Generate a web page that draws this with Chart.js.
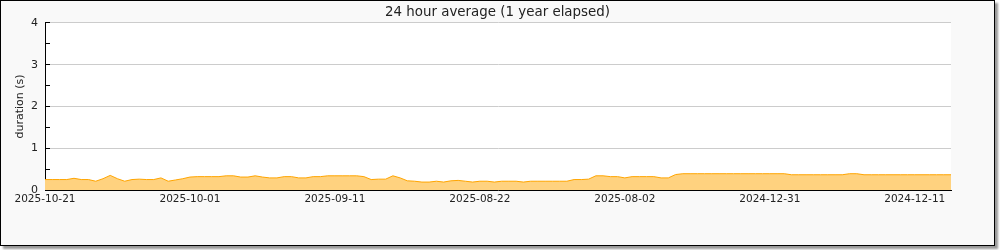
<!DOCTYPE html>
<html>
<head>
<meta charset="utf-8">
<script src="https://cdn.jsdelivr.net/npm/chart.js@4.4.1/dist/chart.umd.min.js"></script>
<style>
    body { margin: 0; background: #ffffff; }
    #frame {
        position: absolute; left: 0; top: 0;
        width: 993px; height: 244px;
        background: #f9f9f9;
        border: 1px solid #000000;
        box-shadow: 3px 3px 2px #999999;
    }
    #chart { display: block; }
</style>
</head>
<body>
<div id="frame"><canvas id="chart" width="993" height="244"></canvas></div>
<script>
// x tick labels, one every 20 samples (newest first)
const tickLabels = ['2025-10-21', '2025-10-01', '2025-09-11', '2025-08-22', '2025-08-02', '2024-12-31', '2024-12-11'];

// 24 hour average duration in seconds, one sample per x step
const durations = [
    0.25, 0.25, 0.25, 0.25, 0.28, 0.25, 0.25, 0.21, 0.27, 0.35,
    0.27, 0.21, 0.25, 0.26, 0.25, 0.25, 0.29, 0.21, 0.24, 0.27,
    0.31, 0.32, 0.32, 0.32, 0.32, 0.34, 0.34, 0.31, 0.31, 0.34,
    0.31, 0.29, 0.29, 0.32, 0.32, 0.29, 0.29, 0.32, 0.32, 0.34,
    0.34, 0.34, 0.34, 0.34, 0.32, 0.25, 0.26, 0.26, 0.34, 0.29,
    0.22, 0.21, 0.19, 0.19, 0.21, 0.19, 0.22, 0.23, 0.21, 0.19,
    0.21, 0.21, 0.19, 0.21, 0.21, 0.21, 0.19, 0.21, 0.21, 0.21,
    0.21, 0.21, 0.21, 0.25, 0.25, 0.26, 0.34, 0.34, 0.32, 0.32,
    0.29, 0.32, 0.32, 0.32, 0.32, 0.29, 0.29, 0.37, 0.39, 0.39,
    0.39, 0.39, 0.39, 0.39, 0.39, 0.39, 0.39, 0.39, 0.39, 0.39,
    0.39, 0.39, 0.39, 0.365, 0.365, 0.365, 0.365, 0.365, 0.365, 0.365,
    0.365, 0.39, 0.39, 0.365, 0.365, 0.365, 0.365, 0.365, 0.365, 0.365,
    0.365, 0.365, 0.365, 0.365, 0.365, 0.365
];

const yTicks = [0, 1, 2, 3, 4];

// white plot area on the grey frame
const plotBackground = {
    id: 'plotBackground',
    beforeDraw(chart) {
        const a = chart.chartArea;
        const ctx = chart.ctx;
        ctx.save();
        ctx.fillStyle = '#ffffff';
        ctx.fillRect(a.left, a.top, a.right - a.left, a.bottom - a.top);
        ctx.restore();
    }
};

const ctx = document.getElementById('chart').getContext('2d');
new Chart(ctx, {
    type: 'line',
    data: {
        datasets: [{
            data: durations.map((v, i) => ({ x: i, y: v })),
            borderColor: '#ffa500',
            backgroundColor: '#ffd27f',
            borderWidth: 1,
            pointRadius: 0,
            tension: 0,
            fill: 'origin'
        }]
    },
    options: {
        responsive: false,
        animation: false,
        layout: { padding: 0 },
        plugins: {
            legend: { display: false },
            tooltip: { enabled: false },
            title: {
                display: true,
                text: '24 hour average (1 year elapsed)',
                color: '#222222',
                font: { family: 'DejaVu Sans', size: 13.4, weight: 'normal' },
                padding: { top: 3, bottom: 2.9 }
            }
        },
        scales: {
            x: {
                type: 'linear',
                min: 0,
                max: durations.length - 1,
                z: 1,
                afterBuildTicks: scale => {
                    scale.ticks = scale.ticks.filter(t => t.value % 10 === 0);
                },
                afterFit: scale => { scale.height = 55; },
                border: { display: true, color: '#000000', width: 1 },
                grid: { drawOnChartArea: false, tickColor: '#000000', tickLength: -6 },
                ticks: {
                    stepSize: 10,
                    autoSkip: false,
                    maxRotation: 0,
                    padding: 9,
                    color: '#222222',
                    font: { family: 'DejaVu Sans', size: 10.5 },
                    callback: v => (v % 20 === 0 ? tickLabels[v / 20] : '')
                }
            },
            y: {
                min: 0,
                max: 4,
                z: 1,
                afterFit: scale => { scale.width = 44; },
                border: { display: true, color: '#000000', width: 1 },
                grid: {
                    color: c => (yTicks.includes(c.tick.value) && c.tick.value !== 0 ? '#cccccc' : 'rgba(0,0,0,0)'),
                    tickColor: '#000000',
                    tickLength: -5
                },
                ticks: {
                    stepSize: 0.5,
                    padding: 12,
                    color: '#222222',
                    font: { family: 'DejaVu Sans', size: 11 },
                    callback: v => (yTicks.includes(v) ? String(v) : '')
                },
                title: {
                    display: true,
                    text: 'duration (s)',
                    color: '#222222',
                    font: { family: 'DejaVu Sans', size: 11 },
                    padding: { top: 13, bottom: 0 }
                }
            },
            // empty right margin so the title centres on the whole frame
            spacer: {
                type: 'linear',
                position: 'right',
                display: true,
                afterFit: scale => { scale.width = 43; },
                border: { display: false },
                grid: { display: false, drawTicks: false },
                ticks: { display: false }
            }
        }
    },
    plugins: [plotBackground]
});
</script>
</body>
</html>
